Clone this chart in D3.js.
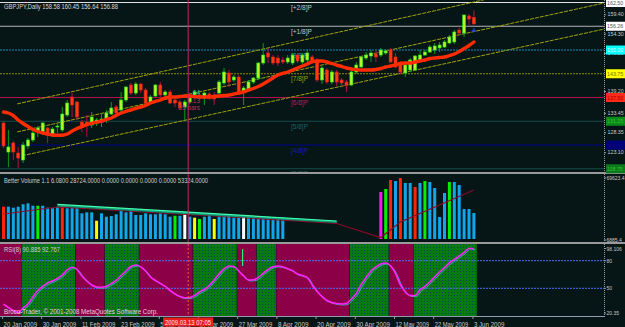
<!DOCTYPE html>
<html>
<head>
<meta charset="utf-8">
<script src="https://cdn.jsdelivr.net/npm/d3@7"></script>
<style>
  body { margin: 0; background: #061616; }
  svg { display: block; }
  text { font-family: "Liberation Sans", Arial, sans-serif; }
</style>
</head>
<body>
<div id="chart"></div>
<script>
// Chart data (GBPJPY daily, 20 Jan 2009 - 3 Jun 2009)
// ==============================
var opens = [130.79,123.15,125.53,122.89,121.05,124.74,126.32,128.68,128.42,129.47,
  127.89,129.74,128.95,132.89,137.63,136.32,131.05,131.05,130.26,130.79,
  131.05,131.58,133.16,135.00,134.21,136.84,140.79,138.68,141.05,139.47,
  136.32,137.89,140.79,138.16,138.95,136.84,136.32,135.00,136.32,138.16,
  138.16,137.37,138.42,138.16,138.68,141.32,143.95,142.11,142.89,138.95,
  139.47,141.58,142.63,146.58,149.21,148.16,147.89,147.37,146.84,146.58,
  148.68,146.84,147.37,148.16,147.37,142.11,144.74,141.58,144.21,142.11,
  141.58,140.79,144.21,145.53,147.89,148.42,148.95,148.68,149.21,150.00,
  148.16,146.58,143.95,144.74,144.74,147.37,148.68,149.47,150.00,150.53,
  150.79,151.84,152.11,155.26,154.47,158.95,158.58];
var highs = [131.32,128.95,126.06,124.48,125.79,126.84,128.95,130.00,131.05,129.74,
  129.74,130.79,135.00,136.84,138.68,136.58,131.58,132.89,133.68,132.11,
  133.42,134.21,136.32,135.53,138.95,140.53,141.32,141.58,141.32,140.00,
  138.16,141.05,141.58,139.47,139.47,137.63,136.84,136.84,137.89,139.47,
  138.68,138.95,138.95,138.95,142.11,145.26,144.74,143.42,143.42,140.53,
  142.11,142.89,146.84,151.84,150.53,148.68,148.68,148.16,148.68,149.21,
  149.21,149.21,150.00,148.68,147.89,145.79,145.26,144.74,144.74,142.63,
  142.11,144.74,146.84,148.42,149.47,150.00,150.00,150.53,150.26,150.53,
  149.21,147.11,146.58,147.89,148.68,150.00,150.00,151.32,151.84,152.11,
  152.63,153.95,155.26,155.79,159.34,159.47,160.45];
var lows = [124.21,119.21,121.05,118.94,120.26,123.95,125.79,127.11,128.16,125.53,
  127.11,128.16,128.42,132.37,132.37,131.58,128.42,127.11,129.47,130.00,
  129.74,130.79,132.89,132.63,133.68,136.32,138.16,138.16,138.68,135.79,
  135.79,137.63,137.63,137.63,135.79,135.00,134.21,131.58,135.79,137.63,
  136.84,135.53,136.84,135.53,138.16,140.79,140.26,141.58,138.16,135.53,
  138.95,141.05,142.11,146.05,146.58,146.05,145.79,146.32,146.32,146.05,
  146.58,146.32,146.84,146.32,141.58,141.05,141.05,141.05,140.53,140.79,
  138.95,140.53,143.68,145.26,147.37,146.84,146.84,148.16,148.68,146.58,
  145.26,143.68,142.89,144.21,144.47,146.84,148.42,149.21,148.95,149.47,
  150.53,151.58,151.58,153.95,153.42,156.58,156.64];
var closes = [124.74,124.48,123.15,121.57,125.00,126.32,128.16,129.47,130.79,127.63,
  129.21,130.00,133.16,136.05,135.53,132.37,129.74,130.53,132.37,131.58,
  131.84,133.42,134.74,133.42,136.84,140.26,138.68,141.05,139.47,136.05,
  137.63,140.79,138.16,138.95,136.05,136.05,134.74,136.32,137.37,138.95,
  137.37,138.68,137.63,137.11,141.58,144.21,141.58,142.89,138.95,140.00,
  141.58,142.63,146.58,148.68,148.16,146.58,146.58,146.84,147.89,148.68,
  147.11,148.68,149.21,146.84,142.11,145.26,141.58,144.21,141.58,141.32,
  140.79,144.21,146.05,148.16,148.68,149.21,148.16,150.00,149.74,146.84,
  145.53,144.21,146.05,147.37,148.42,148.68,149.47,150.79,151.05,151.32,
  152.11,153.42,154.74,154.47,159.21,158.16,156.88];

// moving average
var maValues = [133.68,133.42,132.76,131.58,130.66,129.87,129.08,128.55,128.16,127.89,
  127.63,127.55,127.55,127.89,128.68,129.34,129.87,130.39,130.71,131.00,
  131.26,131.71,132.11,132.76,133.42,133.82,134.21,134.61,135.00,135.39,
  136.05,136.45,136.84,137.37,137.63,137.63,137.76,137.89,137.89,137.76,
  137.63,137.63,137.63,137.76,137.89,138.03,138.16,138.42,138.68,138.95,
  139.47,139.87,140.39,141.05,141.84,142.63,143.42,143.82,144.21,144.74,
  145.26,145.79,146.32,146.97,147.11,147.11,146.84,146.45,146.05,145.66,
  145.26,145.00,144.87,144.74,144.74,144.74,144.87,145.13,145.53,145.79,
  146.05,146.45,146.58,146.58,146.84,147.11,147.37,147.76,147.89,148.03,
  148.16,148.55,148.95,149.61,150.39,151.18,152.11];

// Murrey math levels
var mmLevels = [162.5, 156.25, 150, 143.75, 137.5, 131.25, 125, 118.75];
var mmNames = ["[+2/8]P", "[+1/8]P", "[8/8]P", "[7/8]P", "[6/8]P", "[5/8]P", "[4/8]P", "[3/8]P"];
var mmBoxLabels = ["162.50", "156.26", "150.00", "143.75", "137.50", "131.25", "125.00", "118.75"];

// price channel (bar index, price) anchors
var chanUpper = [[3, 135.87], [96, 162.63]];
var chanMiddle = [[3, 128.50], [96, 154.84]];
var chanLower = [[4, 122.24], [96, 148.05]];

var priceTicks = [159.40, 154.30, 149.20, 139.20, 133.45, 128.35, 123.10];

// Better Volume
var volumes = [40100,40100,39100,40100,42600,43600,41100,41100,41100,39100,
  38500,40100,41900,38500,39100,39100,33300,34300,34300,25700,
  33300,29800,30500,32300,36700,34300,36700,31600,31600,33300,
  32300,32300,33300,32300,29800,30800,30800,32300,29800,28800,
  27500,29800,31600,27500,30800,30800,31600,28800,30800,29800,
  30800,28800,28800,28800,29800,28800,28800,28800,null,null,
  null,null,null,null,null,null,null,null,null,null,
  null,null,null,null,null,null,null,55200,58300,67600,
  66500,69600,64500,64500,60400,64500,66500,65500,59300,29500,
  54200,65500,65500,62400,37700,37700,33600];
// n normal, c climax, y low volume, g churn, w climax churn, m climax low
var volTypes = ["c","n","n","n","n","n","n","g","n","n",
  "n","n","c","n","n","n","n","n","n","y",
  "n","n","n","n","n","n","n","n","n","n",
  "n","n","n","n","n","g","n","w","n","y",
  "g","n","n","y","n","n","n","n","n","w",
  "n","n","n","n","n","n","n","n","n","n",
  "n","n","n","n","n","n","n","n","n","n",
  "n","n","n","n","n","n","n","m","g","c",
  "n","c","n","n","c","n","g","n","n","n",
  "n","g","n","n","n","n","n"];
var volAvgLine = [[0, 32600], [11, 39800], [57, 26400], [68, 22800], [77, 8400], [81, 24400], [96, 57300]];
var volTrendLine = [[11, 42400], [68, 25400]];

// RSI
var rsiValues = [32.9,29.1,25.9,23.5,28.6,32.9,40.5,47.6,52.0,55.8,
  57.9,60.7,64.5,69.9,72.8,70.4,63.4,57.9,53.6,51.4,
  51.1,52.2,55.2,58.5,63.9,68.8,73.7,75.3,73.2,68.8,
  62.3,58.5,55.4,52.0,47.6,43.8,41.1,39.8,40.0,42.2,
  46.0,48.7,53.0,59.0,65.5,71.0,74.2,73.7,68.8,63.4,
  59.0,59.3,61.7,66.3,70.4,73.5,74.2,73.2,71.3,69.1,
  65.5,63.9,61.7,53.6,46.5,41.1,36.7,34.6,33.5,32.9,
  33.7,38.4,44.3,54.1,61.7,68.8,73.2,76.4,77.5,74.2,
  66.1,53.6,46.0,42.2,42.2,48.2,52.0,56.8,62.3,67.7,
  72.6,77.5,81.3,85.1,88.9,93.5,92.8];
var rsiLevels = [80, 50];
var zoneStarts = [0, 4, 15, 21, 28, 39, 48, 52, 56, 71, 79, 84];
var zoneEnds = [3, 14, 20, 27, 38, 47, 51, 55, 70, 78, 83, 96];
var zoneUp = [false, true, false, true, false, true, false, true, false, true, false, true];
var rsiMarker = [49, 74.2, 92.8];

// date axis
var tickIdx = [0, 8, 16, 24, 32, 40, 48, 56, 64, 72, 80, 88, 96];
var tickLabels = ["20 Jan 2009", "30 Jan 2009", "11 Feb 2009", "23 Feb 2009", "5 Mar 2009", "17 Mar 2009",
  "27 Mar 2009", "8 Apr 2009", "20 Apr 2009", "30 Apr 2009", "12 May 2009", "22 May 2009", "3 Jun 2009"];
var crossBar = 38;
var crossTime = "2009.03.13 07:05";
var crossTexts = ["64", "1.13", "55 bars"];

// Layout
// ==============================
var svgWidth = 625;
var svgHeight = 327;
var axisX = 604;

var svg = d3.select("#chart")
  .append("svg")
  .attr("width", svgWidth)
  .attr("height", svgHeight);

svg.append("rect").attr("width", svgWidth).attr("height", svgHeight).attr("fill", "#061616");

var defs = svg.append("defs");
defs.append("clipPath").attr("id", "clipPrice")
  .append("rect").attr("x", 0).attr("y", 0).attr("width", axisX).attr("height", 172);
defs.append("clipPath").attr("id", "clipVol")
  .append("rect").attr("x", 0).attr("y", 174).attr("width", axisX).attr("height", 68);
defs.append("clipPath").attr("id", "clipRsi")
  .append("rect").attr("x", 0).attr("y", 244).attr("width", axisX).attr("height", 72);
var pat = defs.append("pattern").attr("id", "dots")
  .attr("width", 3).attr("height", 3).attr("patternUnits", "userSpaceOnUse");
pat.append("rect").attr("width", 3).attr("height", 3).attr("fill", "#077a12");
pat.append("rect").attr("x", 1).attr("y", 1).attr("width", 1).attr("height", 1).attr("fill", "#0d3f58");

// Scales
// ==============================
var xScale = d3.scaleLinear().domain([0, 96]).range([3.5, 473.9]);
var yPrice = d3.scaleLinear().domain([118.75, 150]).range([168.75, 50]);
var yVol = d3.scaleLinear().domain([6885.4, 69623.4]).range([239, 178]);
var yRsi = d3.scaleLinear().domain([20.35, 98.106]).range([315.6, 244]);

// small helper: squeeze a label to the width MT4 gives it
function fitText(sel, perChar) {
  sel.each(function() {
    var t = d3.select(this);
    t.attr("textLength", t.text().length * perChar).attr("lengthAdjust", "spacingAndGlyphs");
  });
}

// Price panel
// ==============================
var priceG = svg.append("g").attr("clip-path", "url(#clipPrice)");

var mmColors = ["#e0e0e0", "#b4b4b4", "#1c86c0", "#8c8c00", "#b0104c", "#174c4c", "#00008c", "#174c4c"];
var mmTextColors = ["#c8c8c8", "#c8c8c8", "#2a90c0", "#a0a000", "#c0185a", "#1d6262", "#1a1ab0", "#1d6262"];
mmLevels.forEach(function(lv, i) {
  priceG.append("line")
    .attr("x1", 0).attr("x2", axisX)
    .attr("y1", yPrice(lv)).attr("y2", yPrice(lv))
    .attr("stroke", mmColors[i])
    .attr("stroke-width", i < 2 ? 1.2 : 1)
    .attr("stroke-dasharray", (i == 2 || i == 3) ? "2,1" : null);
  priceG.append("text")
    .attr("x", 291).attr("y", yPrice(lv) + 7.5)
    .attr("font-size", 6.5)
    .attr("fill", mmTextColors[i])
    .text(mmNames[i]);
});

// channel rays
[chanUpper, chanMiddle, chanLower].forEach(function(c) {
  var x1 = xScale(c[0][0]), y1 = yPrice(c[0][1]);
  var x2 = xScale(c[1][0]), y2 = yPrice(c[1][1]);
  var slope = (y2 - y1) / (x2 - x1);
  priceG.append("line")
    .attr("x1", x1 - 1).attr("y1", y1 - slope)
    .attr("x2", axisX).attr("y2", y1 + slope * (axisX - x1))
    .attr("stroke", "#a2a20a")
    .attr("stroke-width", 1)
    .attr("stroke-dasharray", "4,1");
});

// candles
var bars = d3.range(opens.length);
priceG.selectAll(".wick").data(bars).enter()
  .append("line")
  .attr("x1", i => xScale(i)).attr("x2", i => xScale(i))
  .attr("y1", i => yPrice(highs[i])).attr("y2", i => yPrice(lows[i]))
  .attr("stroke", i => closes[i] >= opens[i] ? "#0f9a1a" : "#b0124a")
  .attr("stroke-width", 1);
priceG.selectAll(".body").data(bars).enter()
  .append("rect")
  .attr("x", i => xScale(i) - 1.5)
  .attr("width", 3)
  .attr("y", i => yPrice(Math.max(opens[i], closes[i])))
  .attr("height", i => Math.max(1, Math.abs(yPrice(opens[i]) - yPrice(closes[i]))))
  .attr("fill", i => closes[i] >= opens[i] ? "#b4f428" : "#ff3a12")
  .attr("stroke", i => closes[i] >= opens[i] ? "#22e622" : "#e0201a")
  .attr("stroke-width", 0.6);

// moving average
var maLine = d3.line()
  .x((d, i) => xScale(i))
  .y(d => yPrice(d))
  .curve(d3.curveMonotoneX);
priceG.append("path")
  .attr("d", maLine(maValues))
  .attr("fill", "none")
  .attr("stroke", "#ff2c00")
  .attr("stroke-width", 3.4)
  .attr("stroke-linecap", "round");

// arrow under last bar
var lastI = opens.length - 1;
var ax = xScale(lastI), ay = yPrice(lows[lastI]) + 3;
priceG.append("path")
  .attr("d", `M${ax - 2.5},${ay + 4}L${ax},${ay}L${ax + 2.5},${ay + 4}Z`)
  .attr("fill", "#2c3cd0");

// header
svg.append("text")
  .attr("x", 4).attr("y", 8.5)
  .attr("font-size", 6.5).attr("fill", "#d8d8d8")
  .attr("textLength", 114).attr("lengthAdjust", "spacingAndGlyphs")
  .text("GBPJPY,Daily  " + [opens[lastI], highs[lastI], lows[lastI], closes[lastI]].map(d3.format(".2f")).join(" "));

// Volume panel
// ==============================
var volG = svg.append("g").attr("clip-path", "url(#clipVol)");
var volColor = {n: "#12a6e8", c: "#ff2410", y: "#ffff00", g: "#00f000", w: "#ffffff", m: "#ff10ff"};
volG.selectAll(".vbar").data(bars.filter(i => volumes[i] != null)).enter()
  .append("rect")
  .attr("x", i => xScale(i) - 1.5)
  .attr("width", 3)
  .attr("y", i => yVol(volumes[i]))
  .attr("height", i => 239 - yVol(volumes[i]))
  .attr("fill", i => volColor[volTypes[i]]);

var vline = d3.line().x(d => xScale(d[0])).y(d => yVol(d[1]));
volG.append("path")
  .attr("d", vline(volAvgLine))
  .attr("fill", "none").attr("stroke", "#8a0a2a").attr("stroke-width", 1.2);
volG.append("path")
  .attr("d", vline(volTrendLine))
  .attr("fill", "none").attr("stroke", "#109878").attr("stroke-width", 2)
  .attr("transform", "translate(0,1)");
volG.append("path")
  .attr("d", vline(volTrendLine))
  .attr("fill", "none").attr("stroke", "#44ffae").attr("stroke-width", 1.2);

svg.append("text")
  .attr("x", 4).attr("y", 183)
  .attr("font-size", 6.5).attr("fill", "#d0d0d0")
  .attr("textLength", 204).attr("lengthAdjust", "spacingAndGlyphs")
  .text("Better Volume 1.1 6.0800 28724.0000 0.0000 0.0000 0.0000 0.0000 53324.0000");

// RSI panel
// ==============================
var rsiG = svg.append("g").attr("clip-path", "url(#clipRsi)");
rsiG.selectAll(".zone").data(zoneStarts).enter()
  .append("rect")
  .attr("x", (d, i) => i == 0 ? 0 : xScale(d) - 1.5)
  .attr("width", (d, i) => xScale(zoneEnds[i]) + 2.9 - (i == 0 ? 0 : xScale(d) - 1.5))
  .attr("y", 244).attr("height", 72)
  .attr("fill", (d, i) => zoneUp[i] ? "url(#dots)" : "#8c0048");

rsiLevels.forEach(function(lv) {
  rsiG.append("line")
    .attr("x1", 0).attr("x2", axisX)
    .attr("y1", yRsi(lv)).attr("y2", yRsi(lv))
    .attr("stroke", "#4e6ef2").attr("stroke-width", 1)
    .attr("stroke-dasharray", "2,1");
});

var rsiLine = d3.line()
  .x((d, i) => xScale(i))
  .y(d => yRsi(d))
  .curve(d3.curveMonotoneX);
rsiG.append("path")
  .attr("d", rsiLine(rsiValues))
  .attr("fill", "none").attr("stroke", "#3aa8a8").attr("stroke-width", 1)
  .attr("transform", "translate(1.5,1)");
rsiG.append("path")
  .attr("d", rsiLine(rsiValues))
  .attr("fill", "none").attr("stroke", "#ff22ff").attr("stroke-width", 1.6);

rsiG.append("line")
  .attr("x1", xScale(rsiMarker[0]) - 1).attr("x2", xScale(rsiMarker[0]) - 1)
  .attr("y1", yRsi(rsiMarker[1])).attr("y2", yRsi(rsiMarker[2]))
  .attr("stroke", "#30f070").attr("stroke-width", 1.2);

svg.append("text")
  .attr("x", 4).attr("y", 252)
  .attr("font-size", 6.5).attr("fill", "#d0d0d0")
  .attr("textLength", 56).attr("lengthAdjust", "spacingAndGlyphs")
  .text("RSI(8) " + "90.885 92.767");
svg.append("text")
  .attr("x", 4).attr("y", 314)
  .attr("font-size", 6.5).attr("fill", "#ecd0dc")
  .attr("textLength", 154).attr("lengthAdjust", "spacingAndGlyphs")
  .text("Broco-Trader, \u00a9 2001-2008 MetaQuotes Software Corp.");

// Crosshair
// ==============================
var cx = xScale(crossBar) - 1.5;
svg.append("line")
  .attr("x1", cx).attr("x2", cx).attr("y1", 0).attr("y2", 242)
  .attr("stroke", "#c8206e").attr("stroke-width", 1);
svg.append("line")
  .attr("x1", cx).attr("x2", cx).attr("y1", 244).attr("y2", 316)
  .attr("stroke", "#ff5a1e").attr("stroke-width", 1).attr("stroke-dasharray", "2,2");
var crossColors = ["#2cd0a0", "#b8305e", "#b8305e"];
crossTexts.forEach(function(t, i) {
  svg.append("text")
    .attr("x", 200).attr("y", 95 + i * 7.5)
    .attr("text-anchor", "end")
    .attr("font-size", 6.5)
    .attr("fill", crossColors[i])
    .text(t);
});

// Separators and axes
// ==============================
svg.append("rect").attr("x", 0).attr("y", 172).attr("width", svgWidth).attr("height", 2).attr("fill", "#9a9a9a");
svg.append("rect").attr("x", 0).attr("y", 242).attr("width", svgWidth).attr("height", 2).attr("fill", "#9a9a9a");
svg.append("line").attr("x1", 0).attr("x2", axisX).attr("y1", 316.5).attr("y2", 316.5)
  .attr("stroke", "#8e9ab0").attr("stroke-width", 1);
svg.append("line").attr("x1", axisX + 0.5).attr("x2", axisX + 0.5).attr("y1", 0).attr("y2", 317)
  .attr("stroke", "#9a9a9a").attr("stroke-dasharray", "1,1");

function styleAxis(g) {
  g.select(".domain").remove();
  g.selectAll(".tick line").attr("stroke", "#9a9a9a");
  g.selectAll(".tick text").attr("fill", "#c8c8c8").attr("font-size", 6.5)
    .attr("font-family", "Liberation Sans, Arial, sans-serif");
}

// right scale labels use a smaller font so they fit the 20px strip
var priceAxis = d3.axisRight(yPrice)
  .tickValues(priceTicks)
  .tickFormat(d3.format(".2f"))
  .tickSize(2).tickPadding(1.5);
svg.append("g")
  .attr("transform", `translate(${axisX},0)`)
  .call(priceAxis)
  .call(styleAxis)
  .selectAll(".tick text").attr("font-size", 5.3);

// level boxes on the price scale
var boxFill = ["#ffffff", "#ffffff", "#00ffff", "#ffff00", "#ff2a1a", "#0a8a1a", "#00007a", "#0a7a1a"];
var boxText = ["#505050", "#505050", "#e8ffff", "#707000", "#a00000", "#36c036", "#00007a", "#36c036"];
mmLevels.forEach(function(lv, i) {
  var yy = yPrice(lv);
  svg.append("rect")
    .attr("x", axisX + 2).attr("y", yy - 4.5)
    .attr("width", 20).attr("height", 9)
    .attr("fill", boxFill[i]);
  svg.append("text")
    .attr("x", axisX + 3).attr("y", yy + 2)
    .attr("font-size", 5.3).attr("fill", boxText[i])
    .text(mmBoxLabels[i]);
});

// volume and RSI scale labels
var sideLabels = [[yVol(69623.4), "69623.4"], [240, "6885.4"],
  [248.5, "98.106"], [yRsi(80), "80"], [yRsi(50), "50"], [313, "20.35"]];
sideLabels.forEach(function(d) {
  svg.append("line").attr("x1", axisX).attr("x2", axisX + 2)
    .attr("y1", d[0]).attr("y2", d[0]).attr("stroke", "#9a9a9a");
  svg.append("text")
    .attr("x", axisX + 2.5).attr("y", d[0] + 2)
    .attr("font-size", 5).attr("fill", "#c8c8c8")
    .text(d[1]);
});

// date axis
var dateAxis = d3.axisBottom(xScale)
  .tickValues(tickIdx)
  .tickFormat((d, i) => tickLabels[i])
  .tickSize(3).tickPadding(3);
var dateG = svg.append("g")
  .attr("transform", "translate(-1.5,316)")
  .call(dateAxis)
  .call(styleAxis);
dateG.selectAll(".tick text").attr("text-anchor", "start").attr("dx", 1).call(fitText, 3.05);

svg.append("rect")
  .attr("x", 163).attr("y", 317.5).attr("width", 50).attr("height", 9)
  .attr("fill", "#e61e1e");
svg.append("text")
  .attr("x", 165).attr("y", 324.5)
  .attr("font-size", 6.5).attr("fill", "#ffe4e4")
  .attr("textLength", 46).attr("lengthAdjust", "spacingAndGlyphs")
  .text(crossTime);
</script>
</body>
</html>
